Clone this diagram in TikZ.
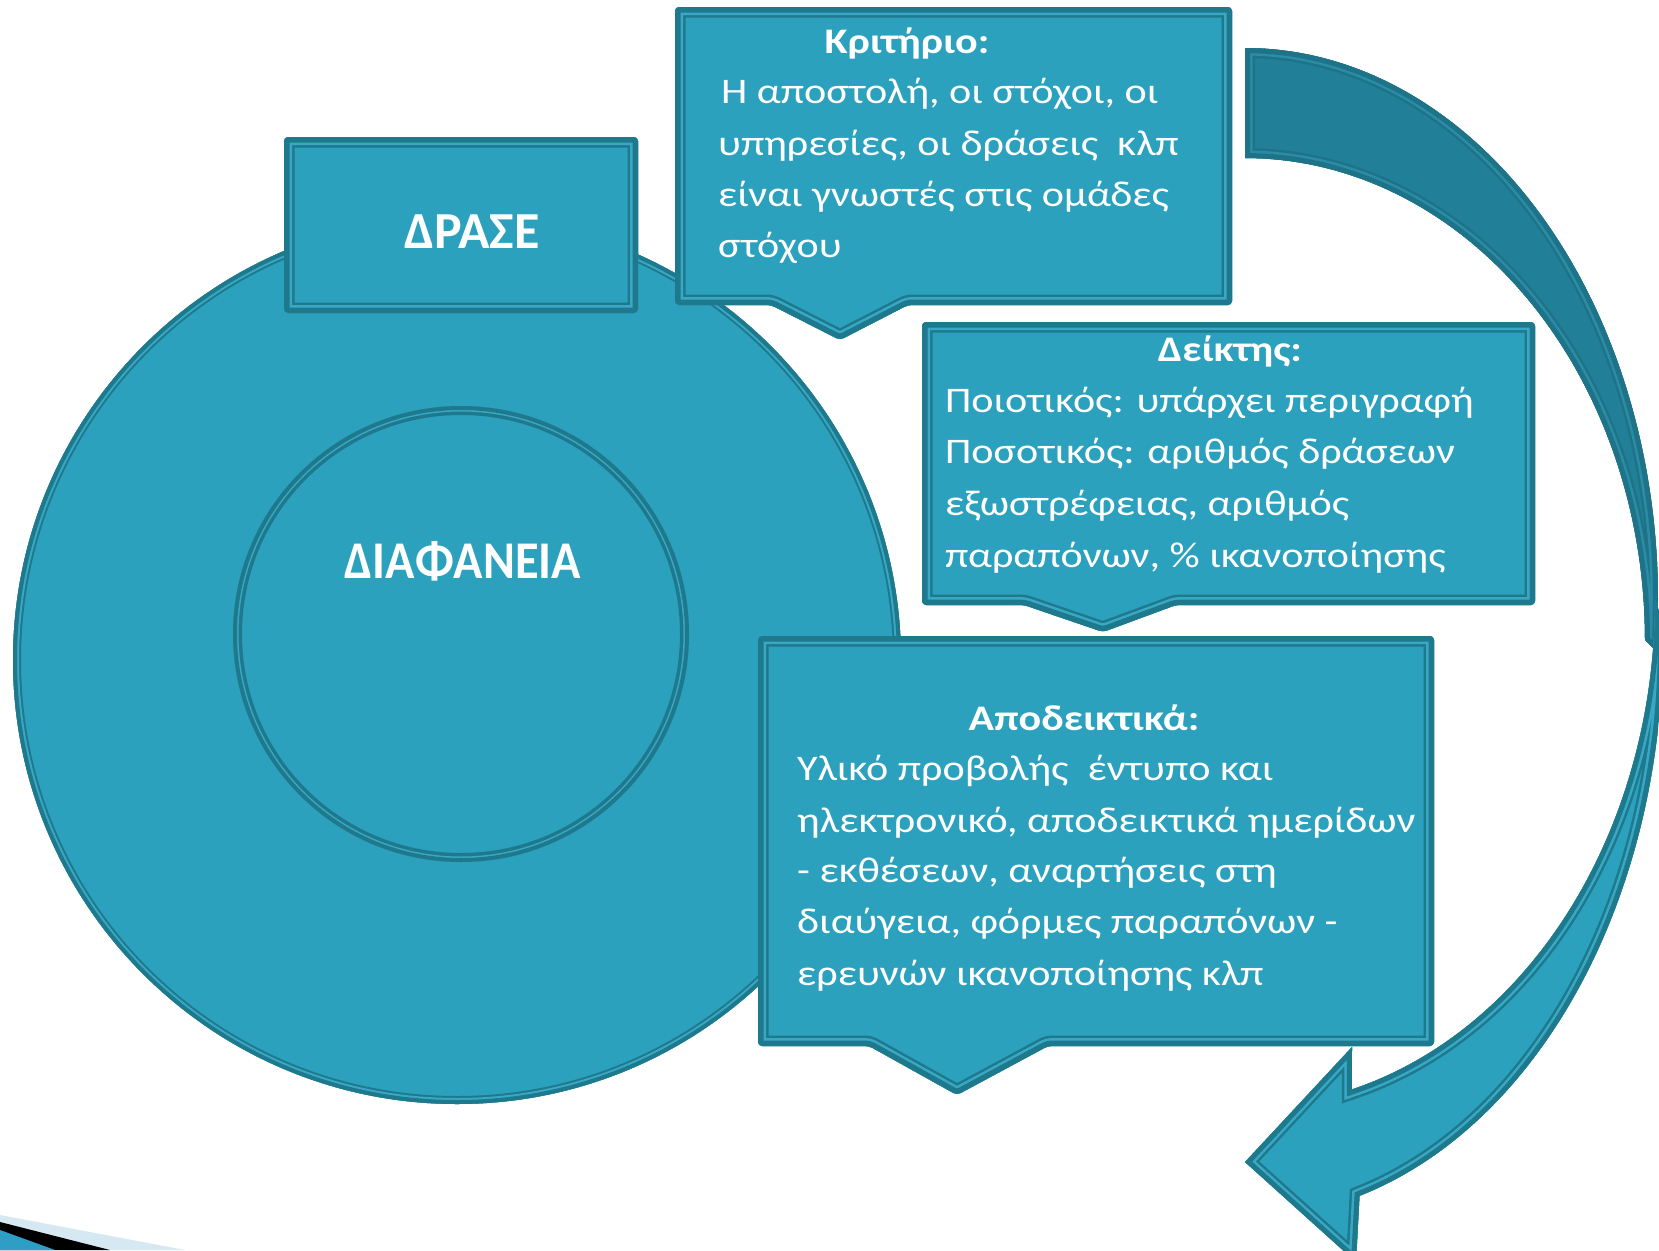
\documentclass[tikz,border=0pt]{standalone}
\usepackage{fontspec}
\setmainfont{Carlito}
\newfontfamily\bodyfont{Carlito}[FakeStretch=1.17]
\newfontfamily\narrowfont{Carlito}[FakeStretch=0.915]
\definecolor{tealF}{RGB}{43,161,190}
\definecolor{tealB}{RGB}{31,121,141}
\definecolor{tealL}{RGB}{56,168,197}
\definecolor{arrD}{RGB}{33,128,152}
\definecolor{arrDB}{RGB}{30,115,136}
\definecolor{arrDL}{RGB}{42,140,165}
\definecolor{stripeL}{RGB}{214,232,241}
\definecolor{tealS}{RGB}{47,158,196}
\tikzset{
  boxfill/.style={fill=tealF,rounded corners=4pt},
  boxshape/.style={rounded corners=4pt},
  boxouter/.style={draw=tealB,line width=21pt,rounded corners=4pt,line join=miter},
  boxband/.style={draw=tealL,line width=16pt,rounded corners=4pt,line join=miter},
  boxinner/.style={draw=tealB,line width=11pt,rounded corners=4pt,line join=miter},
  circfill/.style={fill=tealF},
  circshape/.style={},
  circouter/.style={draw=tealB,line width=16pt},
  circband/.style={draw=tealL,line width=12pt},
  circinner/.style={draw=tealB,line width=8pt},
  ringfill/.style={fill=tealF},
  ringshape/.style={},
  ringouter/.style={draw=tealB,line width=18pt},
  ringband/.style={draw=tealL,line width=11pt},
  ringinner/.style={draw=tealB,line width=8pt},
  darkfill/.style={fill=arrD},
  darkshape/.style={},
  darkouter/.style={draw=arrDB,line width=20pt,line join=miter},
  darkband/.style={draw=arrDL,line width=15pt,line join=miter},
  darkinner/.style={draw=arrDB,line width=10pt,line join=miter},
  lightfill/.style={fill=tealF},
  lightshape/.style={},
  lightouter/.style={draw=tealB,line width=20pt,line join=miter},
  lightband/.style={draw=tealL,line width=15pt,line join=miter},
  lightinner/.style={draw=tealB,line width=10pt,line join=miter},
}
\newcommand\dblshape[2]{%
  \begin{scope}
    \path[#1fill] #2;
    \begin{scope}
      \clip[#1shape] #2;
      \path[#1outer] #2;
      \path[#1band] #2;
      \path[#1inner] #2;
    \end{scope}
  \end{scope}}
\begin{document}
\begin{tikzpicture}[x=1pt,y=-1pt,
  body/.style={text=white,inner sep=0pt,anchor=base west,font=\bodyfont\fontsize{36}{44}\selectfont},
  head/.style={text=white,inner sep=0pt,anchor=base,font=\bodyfont\fontsize{36}{44}\selectfont\bfseries},
  big/.style={text=white,inner sep=0pt,anchor=base,font=\fontsize{52}{60}\selectfont\bfseries}]
\useasboundingbox (0,0) rectangle (1659,1250);
\fill[white] (0,0) rectangle (1659,1250);
% corner stripes
\fill[stripeL] (0,1215) -- (185,1250) -- (0,1250) -- cycle;
\fill[black] (0,1222) -- (110,1250) -- (0,1250) -- cycle;
\fill[tealS] (0,1230) -- (55,1250) -- (0,1250) -- cycle;
% curved arrow, back (dark) part
\dblshape{dark}{plot[domain=90:0,samples=70] ({1245+413*cos(\x)},{600-552*sin(\x)}) -- (1657,652) -- plot[domain=0:90,samples=70] ({1245+400*cos(\x)},{640-482*sin(\x)}) -- cycle}
% curved arrow, front (light) part with head
\dblshape{light}{plot[domain=2:-74.1,samples=70] ({1245+418*cos(\x)},{640-578*sin(\x)}) -- (1356,1262) -- (1245,1162) -- (1352,1047) -- plot[domain=-74.9:0,samples=70] ({1245+410*cos(\x)},{600-507*sin(\x)}) -- cycle}
% circles
\dblshape{circ}{(457,660) circle[radius=444]}
\dblshape{ring}{(461,634) circle[radius=228]}
% boxes
\dblshape{box}{(284,137) rectangle (638,313)}
\dblshape{box}{(675,7) -- (1232,7) -- (1232,305) -- (908,305) -- (840,340) -- (771,305) -- (675,305) -- cycle}
\dblshape{box}{(922,322) -- (1535,322) -- (1535,605) -- (1176,605) -- (1103,632) -- (1024,605) -- (922,605) -- cycle}
\dblshape{box}{(758,636) -- (1434,636) -- (1434,1046) -- (1048,1046) -- (957,1095) -- (869,1046) -- (758,1046) -- cycle}
% texts
\node[big] (drase) at (472,248) {ΔΡΑΣΕ};
\node[big,font=\narrowfont\fontsize{53}{60}\selectfont\bfseries] (diaf) at (463,578) {ΔΙΑΦΑΝΕΙΑ};
\node[head] (kh) at (907,53) {Κριτήριο:};
\node[body] (k1) at (721,103) {Η αποστολή, οι στόχοι, οι};
\node[body] (k2) at (718,155) {υπηρεσίες, οι δράσεις\ \ κλπ};
\node[body] (k3) at (718,206) {είναι γνωστές στις ομάδες};
\node[body] (k4) at (718,257) {στόχου};
\node[head] (dh) at (1230,361) {Δείκτης:};
\node[body] (d1) at (945,412) {Ποιοτικός: υπάρχει περιγραφή};
\node[body] (d2) at (945,463) {Ποσοτικός: αριθμός δράσεων};
\node[body] (d3) at (945,515) {εξωστρέφειας, αριθμός};
\node[body] (d4) at (945,567) {παραπόνων, \% ικανοποίησης};
\node[head] (ah) at (1084,730) {Αποδεικτικά:};
\node[body] (a1) at (797,780) {Υλικό προβολής\ \ έντυπο και};
\node[body] (a2) at (797,832) {ηλεκτρονικό, αποδεικτικά ημερίδων};
\node[body] (a3) at (797,882) {- εκθέσεων, αναρτήσεις στη};
\node[body] (a4) at (797,933) {διαύγεια, φόρμες παραπόνων -};
\node[body] (a5) at (797,985) {ερευνών ικανοποίησης κλπ};
\end{tikzpicture}
\end{document}
